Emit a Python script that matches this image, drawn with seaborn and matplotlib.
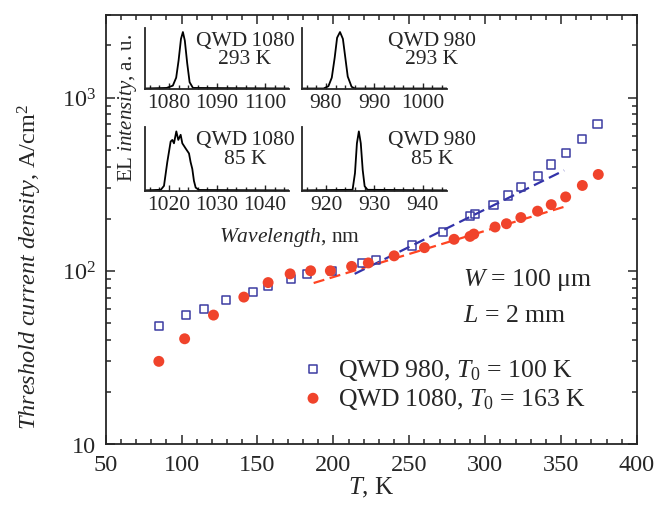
import numpy as np
import pandas as pd
import seaborn as sns
import matplotlib
matplotlib.use("Agg")
import matplotlib.pyplot as plt
from matplotlib.ticker import MultipleLocator, LogLocator, NullFormatter, FuncFormatter

sns.set_style("ticks")
plt.rcParams['font.family'] = ['Liberation Serif', 'DejaVu Serif']
plt.rcParams['mathtext.fontset'] = 'custom'
plt.rcParams['mathtext.rm'] = 'Liberation Serif'
plt.rcParams['mathtext.it'] = 'Liberation Serif:italic'

# threshold current density vs temperature
T980 = [85, 103, 115, 129.5, 147, 157, 172, 182.5, 199, 219, 228, 252, 272, 290, 293,
        305.5, 315, 323.5, 335, 343.5, 353, 364, 374]
J980 = [48, 55.5, 60, 68, 75, 82, 90, 96, 100, 111, 115, 140, 167, 208, 212,
        241, 272, 306, 351, 411, 479, 577, 705]
T1080 = [85, 102, 121, 141, 157, 171.5, 185, 198, 212, 223, 240, 260, 279.5, 290, 292.5,
         306.5, 314, 323.5, 334.5, 343.5, 353, 364, 374.5]
J1080 = [30, 40.5, 55.5, 70.5, 85.5, 96, 100, 100, 106, 111, 122, 136, 152, 158, 163,
         179, 187, 203, 221, 241, 267, 311, 360]

# exponential fits (straight on log axis), end points
fit980_T = [214, 352]
fit980_J = [96, 380]
fit1080_T = [187, 354]
fit1080_J = [85, 237]

# EL spectra (normalised)
wl_1080_293 = [1075, 1079.5, 1080.8, 1081.5, 1082.0, 1082.5, 1082.9, 1083.3, 1083.8, 1084.3, 1085, 1105]
el_1080_293 = [0.01, 0.02, 0.06, 0.2, 0.5, 0.88, 1.0, 0.85, 0.45, 0.12, 0.02, 0.01]
wl_980_293 = [975, 979.5, 980.5, 981.2, 981.8, 982.3, 982.9, 983.5, 984.0, 984.5, 985.3, 986, 1005]
el_980_293 = [0.01, 0.01, 0.05, 0.2, 0.55, 0.9, 1.0, 0.88, 0.55, 0.22, 0.04, 0.01, 0.01]
wl_1080_85 = [1015, 1018.3, 1018.96, 1019.65, 1020.35, 1020.7, 1021.04, 1021.53, 1021.94, 1022.43,
              1022.78, 1023.47, 1024.17, 1024.5, 1024.86, 1025.2, 1025.56, 1026.25, 1045]
el_1080_85 = [0.01, 0.02, 0.086, 0.486, 0.83, 0.857, 0.8, 1.0, 0.857, 0.943,
              0.8, 0.714, 0.63, 0.486, 0.37, 0.17, 0.057, 0.017, 0.01]
wl_980_85 = [915, 925.5, 926.0, 926.4, 926.8, 927.2, 927.6, 928.0, 928.6, 945]
el_980_85 = [0.01, 0.02, 0.3, 0.8, 1.0, 0.8, 0.35, 0.08, 0.02, 0.01]

blue = '#3c3ca2'
red = '#f0432b'

fig = plt.figure(figsize=(6.59, 5.06), dpi=100)
ax = fig.add_axes([0.1604, 0.1206, 0.8062, 0.8478])

df980 = pd.DataFrame({'T': T980, 'J': J980})
df1080 = pd.DataFrame({'T': T1080, 'J': J1080})

sns.lineplot(x=fit980_T, y=fit980_J, ax=ax, color='#3333aa', lw=1.6)
sns.lineplot(x=fit1080_T, y=fit1080_J, ax=ax, color='#ff4422', lw=1.6)
for l in ax.lines:
    l.set_dashes([5, 2.5])

sns.scatterplot(data=df980, x='T', y='J', ax=ax, marker='s', s=34, facecolor='none',
                edgecolor=blue, linewidth=1.1, label='QWD\u2009980, $T_0$ = 100 K', zorder=3)
sns.scatterplot(data=df1080, x='T', y='J', ax=ax, marker='o', s=62, color=red,
                edgecolor='none', label='QWD\u20091080, $T_0$ = 163 K', zorder=4)

ax.set_yscale('log')
ax.set_xlim(50, 400)
ax.set_ylim(10, 3000)
ax.xaxis.set_major_locator(MultipleLocator(50))
ax.xaxis.set_minor_locator(MultipleLocator(10))
ax.yaxis.set_major_locator(LogLocator(base=10, numticks=10))
ax.yaxis.set_minor_locator(LogLocator(base=10, subs=np.arange(2, 10), numticks=20))
ax.yaxis.set_minor_formatter(NullFormatter())
ax.yaxis.set_major_formatter(FuncFormatter(
    lambda v, p: '10' if abs(v - 10) < 1e-6 else '$10^{%d}$' % round(np.log10(v))))
ax.tick_params(which='both', direction='in', top=True, right=True, width=1.1)
ax.tick_params(which='major', length=6.5, labelsize=17.5, pad=7)
ax.tick_params(which='minor', length=3.6)
for s in ax.spines.values():
    s.set_linewidth(1.3)
ax.set_xlabel('')
ax.set_ylabel('')
fig.text(0.563, 0.012, '$T$, K', ha='center', va='bottom', fontsize=18)
fig.text(0.045, 0.472, '$\\mathit{Threshold\\ current\\ density}$, A/cm$^2$',
         rotation=90, ha='center', va='center', fontsize=17.5)

ax.text(0.6725, 0.385, '$W$ = 100 \u03bcm', transform=ax.transAxes, fontsize=18.5, va='center')
ax.text(0.6725, 0.300, '$L$ = 2 mm', transform=ax.transAxes, fontsize=18.5, va='center')

leg = ax.legend(loc='center left', bbox_to_anchor=(0.4594, 0.239), bbox_transform=fig.transFigure,
                frameon=False, fontsize=18.5, handletextpad=0.57, labelspacing=0.15,
                borderpad=0, borderaxespad=0, handlelength=0.8)

# inset spectra
insets = [
    ([0.220, 0.822, 0.2185, 0.1206], wl_1080_293, el_1080_293, (1075, 1105), [1080, 1090, 1100],
     'QWD\u20091080\n293 K', 0.694, 0.95),
    ([0.458, 0.822, 0.2200, 0.1206], wl_980_293, el_980_293, (975, 1005), [980, 990, 1000],
     'QWD\u2009980\n293 K', 0.897, 0.95),
    ([0.220, 0.6206, 0.2185, 0.126], wl_1080_85, el_1080_85, (1015, 1045), [1020, 1030, 1040],
     'QWD\u20091080\n85 K', 0.694, 0.95),
    ([0.458, 0.6206, 0.2200, 0.126], wl_980_85, el_980_85, (915, 945), [920, 930, 940],
     'QWD\u2009980\n85 K', 0.897, 0.95),
]
for rect, wl, el, xl, ticks, lab, tx, ty in insets:
    ia = fig.add_axes(rect)
    ia.patch.set_alpha(0)
    sns.lineplot(x=wl, y=el, ax=ia, color='black', lw=1.3)
    ia.set_xlim(*xl)
    ia.set_ylim(0, 1.07)
    ia.set_xticks(ticks)
    ia.xaxis.set_minor_locator(MultipleLocator(2))
    ia.set_yticks([])
    ia.spines['top'].set_visible(False)
    ia.spines['right'].set_visible(False)
    ia.spines['left'].set_linewidth(1.3)
    ia.spines['bottom'].set_linewidth(1.3)
    ia.tick_params(which='both', direction='in', width=1.0, labelsize=15.5, pad=3)
    ia.tick_params(which='major', length=4.5)
    ia.tick_params(which='minor', length=3)
    ia.text(tx, ty, lab, transform=ia.transAxes, ha='center', va='top',
            fontsize=15.5, linespacing=0.95)

fig.text(0.194, 0.787, 'EL $\\mathit{intensity}$, a. u.', rotation=90, ha='center',
         va='center', fontsize=15)
fig.text(0.44, 0.53, '$\\mathit{Wavelength}$, nm', ha='center', va='center', fontsize=15.5)

fig.savefig('out.png', dpi=100)
